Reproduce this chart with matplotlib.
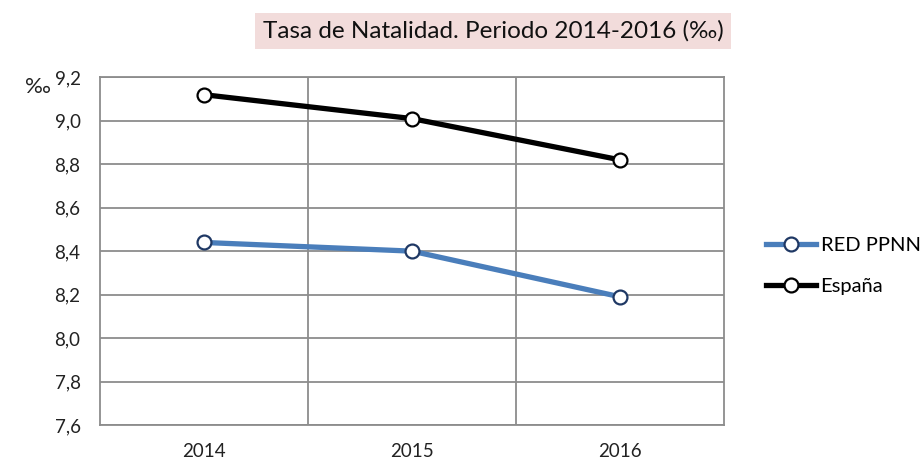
import matplotlib
matplotlib.use("Agg")
import matplotlib.pyplot as plt
from matplotlib.lines import Line2D

years = ["2014", "2015", "2016"]
red_ppnn = [8.44, 8.40, 8.19]
espana = [9.12, 9.01, 8.82]
yticks = [7.6, 7.8, 8.0, 8.2, 8.4, 8.6, 8.8, 9.0, 9.2]
title = "Tasa de Natalidad. Periodo 2014-2016 (‰)"

plt.rcParams['font.family'] = ['Lato', 'DejaVu Sans']

fig = plt.figure(figsize=(9.21, 4.62), dpi=100)
ax = fig.add_axes([100/921, 1-425/462, 624/921, (425-77.3)/462])

grid_c = "#8c8c8c"
x = list(range(len(years)))
ax.plot(x, red_ppnn, color="#4a7ebb", lw=3.8, marker="o", ms=10,
        mfc="white", mec="#1f3864", mew=1.6, zorder=3, solid_capstyle="butt")
ax.plot(x, espana, color="black", lw=3.8, marker="o", ms=10,
        mfc="white", mec="black", mew=1.6, zorder=3, solid_capstyle="butt")

ax.set_xlim(-0.5, len(years) - 0.5)
ax.set_ylim(yticks[0], yticks[-1])
ax.set_yticks(yticks)
ax.set_yticklabels([f"{v:.1f}".replace(".", ",") for v in yticks])
ax.set_xticks(x)
ax.set_xticklabels(years)
for v in yticks:
    ax.axhline(v, color=grid_c, lw=1.3, zorder=1)
for v in [0.5, 1.5]:
    ax.axvline(v, color=grid_c, lw=1.3, zorder=1)
for s in ax.spines.values():
    s.set_color(grid_c)
    s.set_linewidth(1.3)
ax.tick_params(axis="both", length=0, labelsize=13.5, colors="#222222")
ax.tick_params(axis="y", pad=14)
ax.tick_params(axis="x", pad=13)

fig.text(25/921, 1-87/462, "‰", fontsize=16, ha="left", va="center", color="#222222")
fig.text(493/921, 1-31/462, title, fontsize=17.5, ha="center", va="center",
         color="#111111",
         bbox=dict(boxstyle="square,pad=0.3", fc="#f2dcdb", ec="none"))

handles = [
    Line2D([], [], color="#4a7ebb", lw=3.8, marker="o", ms=10, mfc="white", mec="#1f3864", mew=1.6),
    Line2D([], [], color="black", lw=3.8, marker="o", ms=10, mfc="white", mec="black", mew=1.6),
]
leg = fig.legend(handles, ["RED PPNN", "España"], loc="center left",
                 bbox_to_anchor=(748/921, 1-266/462), frameon=False,
                 fontsize=14.5, handlelength=2.5, handletextpad=0.2,
                 labelspacing=1.15)

fig.savefig("out.png", dpi=100)
